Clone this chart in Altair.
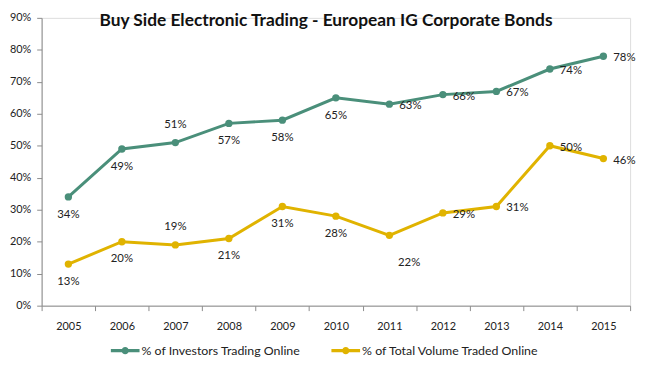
import altair as alt
import pandas as pd

years = ["2005", "2006", "2007", "2008", "2009", "2010", "2011", "2012", "2013", "2014", "2015"]
investors = [34, 49, 51, 57, 58, 65, 63, 66, 67, 74, 78]
volume = [13, 20, 19, 21, 31, 28, 22, 29, 31, 50, 46]
series_names = ["% of Investors Trading Online", "% of Total Volume Traded Online"]
investors_label_pos = ["below", "below", "above", "below", "below", "below", "right", "right", "right", "right", "right"]
volume_label_pos = ["below", "below", "above", "below", "below", "below", "belowright", "right", "right", "right", "right"]
y_ticks = [0, 0.1, 0.2, 0.3, 0.4, 0.5, 0.6, 0.7, 0.8, 0.9]
colors = ["#4A8F7A", "#E0B300"]
title_text = "Buy Side Electronic Trading - European IG Corporate Bonds"

FONT = "Lato"
TXT = "#222222"
AX = "#8C8C8C"

rows = []
for name, vals, poss in [(series_names[0], investors, investors_label_pos),
                         (series_names[1], volume, volume_label_pos)]:
    for y, v, p in zip(years, vals, poss):
        rows.append({"year": y, "value": v / 100.0, "series": name,
                     "label": f"{v}%", "pos": p})
df = pd.DataFrame(rows)

x_enc = alt.X("year:O", title=None,
              scale=alt.Scale(type="band", paddingInner=0, paddingOuter=0),
              axis=alt.Axis(labelAngle=0, tickBand="extent", tickSize=5,
                            labelPadding=10, domainColor=AX, tickColor=AX,
                            labelColor=TXT, labelFont=FONT, labelFontSize=11,
                            grid=False))
y_enc = alt.Y("value:Q", title=None,
              scale=alt.Scale(domain=[0, 0.9], nice=False, zero=True),
              axis=alt.Axis(format=".0%", values=y_ticks, tickSize=5,
                            labelPadding=6, domainColor=AX, tickColor=AX,
                            labelColor=TXT, labelFont=FONT, labelFontSize=11,
                            grid=False))
color_scale = alt.Scale(domain=series_names, range=colors)

legend_path = ("M-1,-0.11H1V0.11H-1Z "
               "M0.25,0A0.25,0.25 0 1 1 -0.25,0A0.25,0.25 0 1 1 0.25,0Z")

legend = alt.Legend(title=None, orient="none", direction="horizontal",
                    legendX=70, legendY=322, padding=0,
                    symbolType=legend_path, symbolSize=841,
                    symbolStrokeWidth=0, symbolOpacity=1,
                    symbolFillColor="#000000",
                    labelFont=FONT, labelFontSize=12.5, labelLimit=400,
                    labelColor=TXT, labelOffset=2,
                    columnPadding=31)

base = alt.Chart(df)

lines = base.mark_line(strokeWidth=3).encode(
    x=x_enc, y=y_enc,
    color=alt.Color("series:N", scale=color_scale, legend=legend),
)

points = base.mark_point(filled=True, size=55, opacity=1).encode(
    x=x_enc, y=y_enc,
    color=alt.Color("series:N", scale=color_scale, legend=legend),
)

def labels(pos, **kw):
    return base.transform_filter(alt.datum.pos == pos).mark_text(
        font=FONT, fontSize=11.5, color=TXT, baseline="middle", **kw
    ).encode(x=x_enc, y=y_enc, text="label:N")

lab_below = labels("below", align="center", dy=18)
lab_above = labels("above", align="center", dy=-18)
lab_right = labels("right", align="left", dx=10, dy=2)
lab_br = labels("belowright", align="center", dx=20, dy=28)

chart = alt.layer(lines, points, lab_below, lab_above, lab_right, lab_br).properties(
    width=595, height=291,
    title=alt.TitleParams(title_text, anchor="middle", font=FONT, fontSize=17.5,
                          fontWeight="bold", color="#111111", offset=0,
                          baseline="middle", dy=27, dx=-10),
    autosize=alt.AutoSizeParams(type="none"),
    padding={"left": 34, "top": 8, "right": 10, "bottom": 56},
).configure_view(stroke=None).configure(background="white")

chart.save("out.html", embed_options={"renderer": "svg", "actions": False})
